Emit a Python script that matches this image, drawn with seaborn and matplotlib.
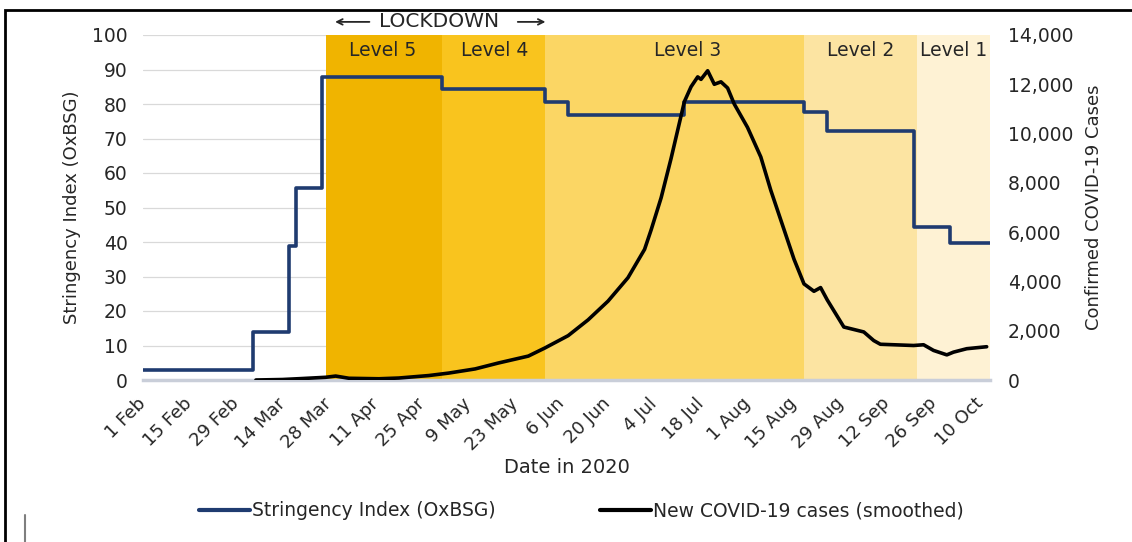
import pandas as pd
import seaborn as sns
import matplotlib.pyplot as plt
import matplotlib.transforms as mtransforms
from matplotlib.patches import Rectangle
from matplotlib.lines import Line2D
from matplotlib.ticker import FuncFormatter

# Stringency index (OxBSG), step changes
stringency_dates = ["2020-02-01", "2020-03-05", "2020-03-16", "2020-03-18", "2020-03-26",
                    "2020-05-01", "2020-06-01", "2020-06-08", "2020-07-13", "2020-08-18",
                    "2020-08-25", "2020-09-20", "2020-10-01", "2020-10-13"]
stringency_values = [2.78, 13.89, 38.89, 55.56, 87.96, 84.26, 80.56, 76.85, 80.56,
                     77.78, 72.22, 44.44, 39.81, 39.81]

# New cases (smoothed)
case_dates = ["2020-03-06", "2020-03-14", "2020-03-20", "2020-03-27", "2020-03-30",
              "2020-04-03", "2020-04-12", "2020-04-18", "2020-04-27", "2020-05-03",
              "2020-05-11", "2020-05-18", "2020-05-27", "2020-06-01", "2020-06-08",
              "2020-06-14", "2020-06-20", "2020-06-26", "2020-07-01", "2020-07-03",
              "2020-07-06", "2020-07-09", "2020-07-13", "2020-07-15", "2020-07-17",
              "2020-07-18", "2020-07-20", "2020-07-22", "2020-07-24", "2020-07-26",
              "2020-07-28", "2020-08-01", "2020-08-05", "2020-08-08", "2020-08-12",
              "2020-08-15", "2020-08-18", "2020-08-21", "2020-08-23", "2020-08-25",
              "2020-08-30", "2020-09-05", "2020-09-08", "2020-09-10", "2020-09-20",
              "2020-09-23", "2020-09-26", "2020-09-30", "2020-10-02", "2020-10-06",
              "2020-10-12"]
case_values = [0, 20, 60, 110, 160, 70, 50, 80, 180, 280,
               450, 690, 970, 1300, 1800, 2440, 3200, 4150, 5300, 6100,
               7400, 9000, 11300, 11900, 12300, 12200, 12550, 12000, 12100, 11850,
               11200, 10250, 9050, 7700, 6100, 4900, 3900, 3600, 3750, 3250,
               2150, 1950, 1600, 1450, 1400, 1430, 1200, 1020, 1130, 1270,
               1350]

# lockdown levels
level_names = ["Level 5", "Level 4", "Level 3", "Level 2", "Level 1"]
level_starts = ["2020-03-27", "2020-05-01", "2020-06-01", "2020-08-18", "2020-09-21"]
level_ends = ["2020-05-01", "2020-06-01", "2020-08-18", "2020-09-21", "2020-10-13"]
level_label_dates = ["2020-04-13", "2020-05-17", "2020-07-14", "2020-09-04", "2020-10-02"]
level_colors = ["#F0B400", "#F9C41E", "#FBD664", "#FCE4A2", "#FEF2D4"]

tick_dates = pd.date_range("2020-02-01", "2020-10-10", freq="14D")

sns.set_style("white")
plt.rcParams["font.family"] = ["DejaVu Sans"]
TXT = "#262626"

W, H = 1132, 542
fig = plt.figure(figsize=(W / 100, H / 100), dpi=100)
ax = fig.add_axes([143 / W, 1 - 380 / H, (990 - 143) / W, (380 - 35) / H])

# bands
for name, s, e, ld, c in zip(level_names, level_starts, level_ends, level_label_dates, level_colors):
    ax.axvspan(pd.Timestamp(s), pd.Timestamp(e), color=c, lw=0, zorder=1)
    ax.text(pd.Timestamp(ld), 95.6, name, ha="center", va="center",
            fontsize=13.5, color=TXT, zorder=5)

str_df = pd.DataFrame({"date": pd.to_datetime(stringency_dates), "value": stringency_values})
sns.lineplot(data=str_df, x="date", y="value", ax=ax, color="#1F3B70", lw=2.6,
             drawstyle="steps-post", zorder=3)

ax.set_xlim(pd.Timestamp("2020-02-01"), pd.Timestamp("2020-10-13"))
ax.set_ylim(0, 100)
ax.set_yticks(range(0, 101, 10))
ax.set_axisbelow(True)
ax.yaxis.grid(True, color="#D9D9D9", lw=0.9)
ax.set_xticks(tick_dates)
ax.set_xticklabels([f"{d.day} {d.strftime('%b')}" for d in tick_dates],
                   rotation=45, ha="right", va="center", rotation_mode="anchor",
                   fontsize=13, color=TXT)
shift = mtransforms.ScaledTranslation(5 / 100, 0, fig.dpi_scale_trans)
for lab in ax.get_xticklabels():
    lab.set_transform(lab.get_transform() + shift)
ax.tick_params(axis="x", length=0, pad=15)
ax.tick_params(axis="y", length=0, labelsize=13.5, labelcolor=TXT, pad=11)
for sp in ["top", "right", "left"]:
    ax.spines[sp].set_visible(False)
ax.spines["bottom"].set_color("#C9CED9")
ax.spines["bottom"].set_linewidth(2.5)
ax.spines["bottom"].set_zorder(2)
ax.set_ylabel("Stringency Index (OxBSG)", fontsize=13, color=TXT, labelpad=8)
ax.set_xlabel("Date in 2020", fontsize=14, color=TXT, labelpad=3)

ax2 = ax.twinx()
case_df = pd.DataFrame({"date": pd.to_datetime(case_dates), "cases": case_values})
sns.lineplot(data=case_df, x="date", y="cases", ax=ax2, color="black", lw=2.6, zorder=4)
ax2.set_ylim(0, 14000)
ax2.set_yticks(range(0, 14001, 2000))
ax2.yaxis.set_major_formatter(FuncFormatter(lambda v, p: f"{int(v):,}"))
ax2.tick_params(axis="y", length=0, labelsize=13.5, labelcolor=TXT, pad=13)
for sp in ax2.spines.values():
    sp.set_visible(False)
ax2.set_ylabel("Confirmed COVID-19 Cases", fontsize=13, color=TXT, labelpad=8)
ax2.set_xlim(pd.Timestamp("2020-02-01"), pd.Timestamp("2020-10-13"))

# lockdown marker above the plot
ax.text(pd.Timestamp("2020-04-30"), 103.8, "LOCKDOWN", ha="center", va="center",
        fontsize=14.5, color=TXT, clip_on=False)
ax.annotate("", xy=(pd.Timestamp("2020-03-29"), 103.8), xytext=(pd.Timestamp("2020-04-10"), 103.8),
            arrowprops=dict(arrowstyle="->", color=TXT, lw=1.3), annotation_clip=False)
ax.annotate("", xy=(pd.Timestamp("2020-06-02"), 103.8), xytext=(pd.Timestamp("2020-05-23"), 103.8),
            arrowprops=dict(arrowstyle="->", color=TXT, lw=1.3), annotation_clip=False)

# legend
handles = [Line2D([], [], color="#1F3B70", lw=3), Line2D([], [], color="black", lw=3)]
fig.legend(handles, ["Stringency Index (OxBSG)", "New COVID-19 cases (smoothed)"],
           loc="center left", bbox_to_anchor=(199 / W, 1 - 511 / H), ncol=2, frameon=False,
           fontsize=13.5, handlelength=2.7, handletextpad=0.1, columnspacing=5.6,
           borderpad=0, borderaxespad=0, labelcolor=TXT)
for a in (ax, ax2):
    if a.get_legend():
        a.get_legend().remove()

# outer frame (top and left visible) and small stray bar
fig.patches.append(Rectangle((5 / W, -0.2), 1.2, 1.2 - 10 / H, transform=fig.transFigure,
                             fill=False, ec="black", lw=2))
fig.lines.append(Line2D([25 / W, 25 / W], [0, 1 - 515 / H], transform=fig.transFigure,
                        color="#7F7F7F", lw=1.5))

fig.savefig("out.png", dpi=100)
